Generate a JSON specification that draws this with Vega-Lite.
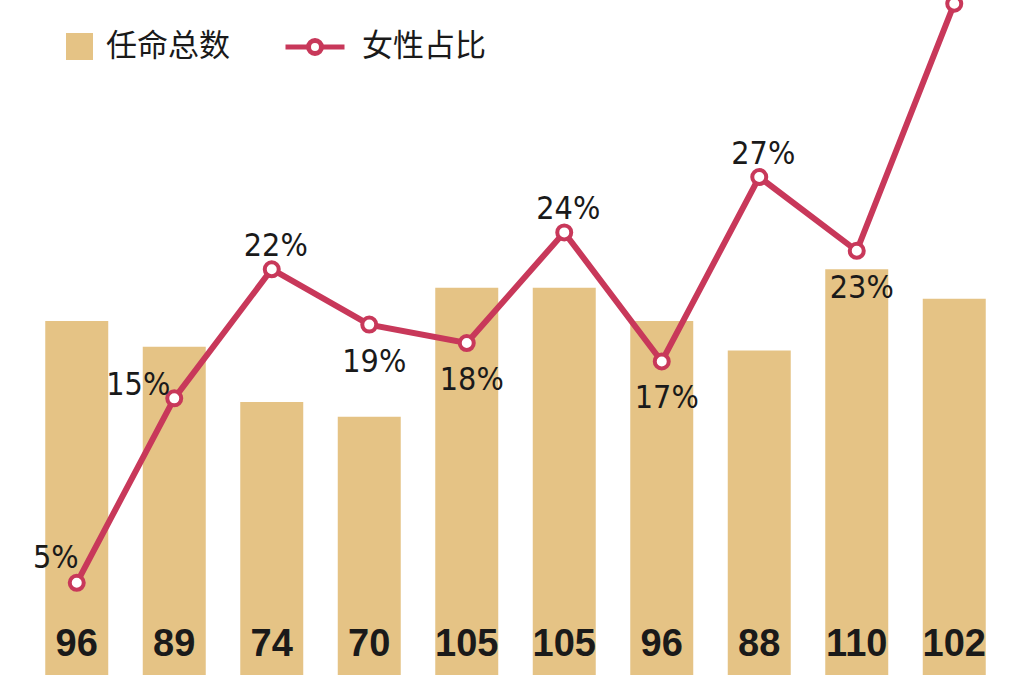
{
  "$schema": "https://vega.github.io/schema/vega-lite/v6.json",
  "width": 975,
  "height": 675,
  "autosize": {"type": "none"},
  "padding": {"left": 28, "right": 21, "top": 0, "bottom": 7},
  "background": "white",
  "config": {"view": {"stroke": null}},
  "data": {
    "values": [
      {"period": 1, "total": 96, "ratio": 0.05},
      {"period": 2, "total": 89, "ratio": 0.15},
      {"period": 3, "total": 74, "ratio": 0.22},
      {"period": 4, "total": 70, "ratio": 0.19},
      {"period": 5, "total": 105, "ratio": 0.18},
      {"period": 6, "total": 105, "ratio": 0.24},
      {"period": 7, "total": 96, "ratio": 0.17},
      {"period": 8, "total": 88, "ratio": 0.27},
      {"period": 9, "total": 110, "ratio": 0.23},
      {"period": 10, "total": 102, "ratio": 0.364}
    ]
  },
  "encoding": {
    "x": {
      "field": "period",
      "type": "ordinal",
      "axis": null,
      "scale": {"paddingInner": 0.354, "paddingOuter": 0.177}
    }
  },
  "layer": [
    {
      "encoding": {
        "y": {
          "field": "total",
          "type": "quantitative",
          "axis": null,
          "scale": {"domain": [0, 183], "nice": false}
        }
      },
      "layer": [
        {
          "mark": {"type": "bar"},
          "encoding": {
            "fill": {
              "datum": "任命总数",
              "type": "nominal",
              "scale": {"domain": ["任命总数"], "range": ["#E5C385"]},
              "legend": {
                "orient": "none",
                "legendX": 36,
                "legendY": 31,
                "title": null,
                "symbolType": "square",
                "symbolSize": 729,
                "symbolFillColor": "#E6B862",
                "symbolStrokeWidth": 0,
                "symbolOpacity": 1,
                "labelFont": "Noto Sans CJK SC",
                "labelFontSize": 31,
                "labelColor": "#1a1a1a",
                "labelOffset": 11
              }
            }
          }
        },
        {
          "mark": {
            "type": "text",
            "font": "Liberation Sans",
            "fontWeight": "bold",
            "fontSize": 38,
            "baseline": "alphabetic",
            "dy": -19,
            "color": "#1a1a1a"
          },
          "encoding": {
            "y": {"datum": 0, "type": "quantitative"},
            "text": {"field": "total", "type": "quantitative"}
          }
        }
      ]
    },
    {
      "encoding": {
        "y": {
          "field": "ratio",
          "type": "quantitative",
          "axis": null,
          "scale": {"domain": [0, 0.366], "nice": false}
        }
      },
      "layer": [
        {
          "mark": {"type": "line", "strokeWidth": 6},
          "encoding": {
            "stroke": {
              "datum": "女性占比",
              "type": "nominal",
              "scale": {"domain": ["女性占比"], "range": ["#C8385A"]},
              "legend": {
                "orient": "none",
                "legendX": 255,
                "legendY": 15,
                "title": null,
                "symbolType": "M-1,0L-0.22,0M0.22,0L1,0M-0.22,0A0.22,0.22,0,1,0,0.22,0A0.22,0.22,0,1,0,-0.22,0Z",
                "symbolSize": 3481,
                "symbolFillColor": "white",
                "symbolStrokeWidth": 5,
                "symbolOpacity": 1,
                "labelFont": "Noto Sans CJK SC",
                "labelFontSize": 31,
                "labelColor": "#1a1a1a",
                "labelOffset": 15
              }
            }
          }
        },
        {
          "mark": {
            "type": "point",
            "shape": "circle",
            "filled": true,
            "fill": "white",
            "stroke": "#C8385A",
            "strokeWidth": 4,
            "size": 196,
            "opacity": 1
          }
        },
        {
          "transform": [{"filter": {"field": "period", "oneOf": [3, 6, 8]}}],
          "mark": {"type": "text", "font": "DejaVu Sans Condensed, Liberation Sans, sans-serif", "fontSize": 32, "baseline": "alphabetic", "color": "#1a1a1a", "dx": 4, "dy": -13},
          "encoding": {"text": {"field": "ratio", "type": "quantitative", "format": ".0%"}}
        },
        {
          "transform": [{"filter": {"field": "period", "oneOf": [4, 5, 7, 9]}}],
          "mark": {"type": "text", "font": "DejaVu Sans Condensed, Liberation Sans, sans-serif", "fontSize": 32, "baseline": "alphabetic", "color": "#1a1a1a", "dx": 5, "dy": 47},
          "encoding": {"text": {"field": "ratio", "type": "quantitative", "format": ".0%"}}
        },
        {
          "transform": [{"filter": {"field": "period", "equal": 1}}],
          "mark": {"type": "text", "font": "DejaVu Sans Condensed, Liberation Sans, sans-serif", "fontSize": 32, "baseline": "alphabetic", "color": "#1a1a1a", "dx": -21, "dy": -15},
          "encoding": {"text": {"field": "ratio", "type": "quantitative", "format": ".0%"}}
        },
        {
          "transform": [{"filter": {"field": "period", "equal": 2}}],
          "mark": {"type": "text", "font": "DejaVu Sans Condensed, Liberation Sans, sans-serif", "fontSize": 32, "baseline": "alphabetic", "color": "#1a1a1a", "dx": -36, "dy": -3},
          "encoding": {"text": {"field": "ratio", "type": "quantitative", "format": ".0%"}}
        }
      ]
    }
  ],
  "resolve": {"scale": {"y": "independent"}}
}
